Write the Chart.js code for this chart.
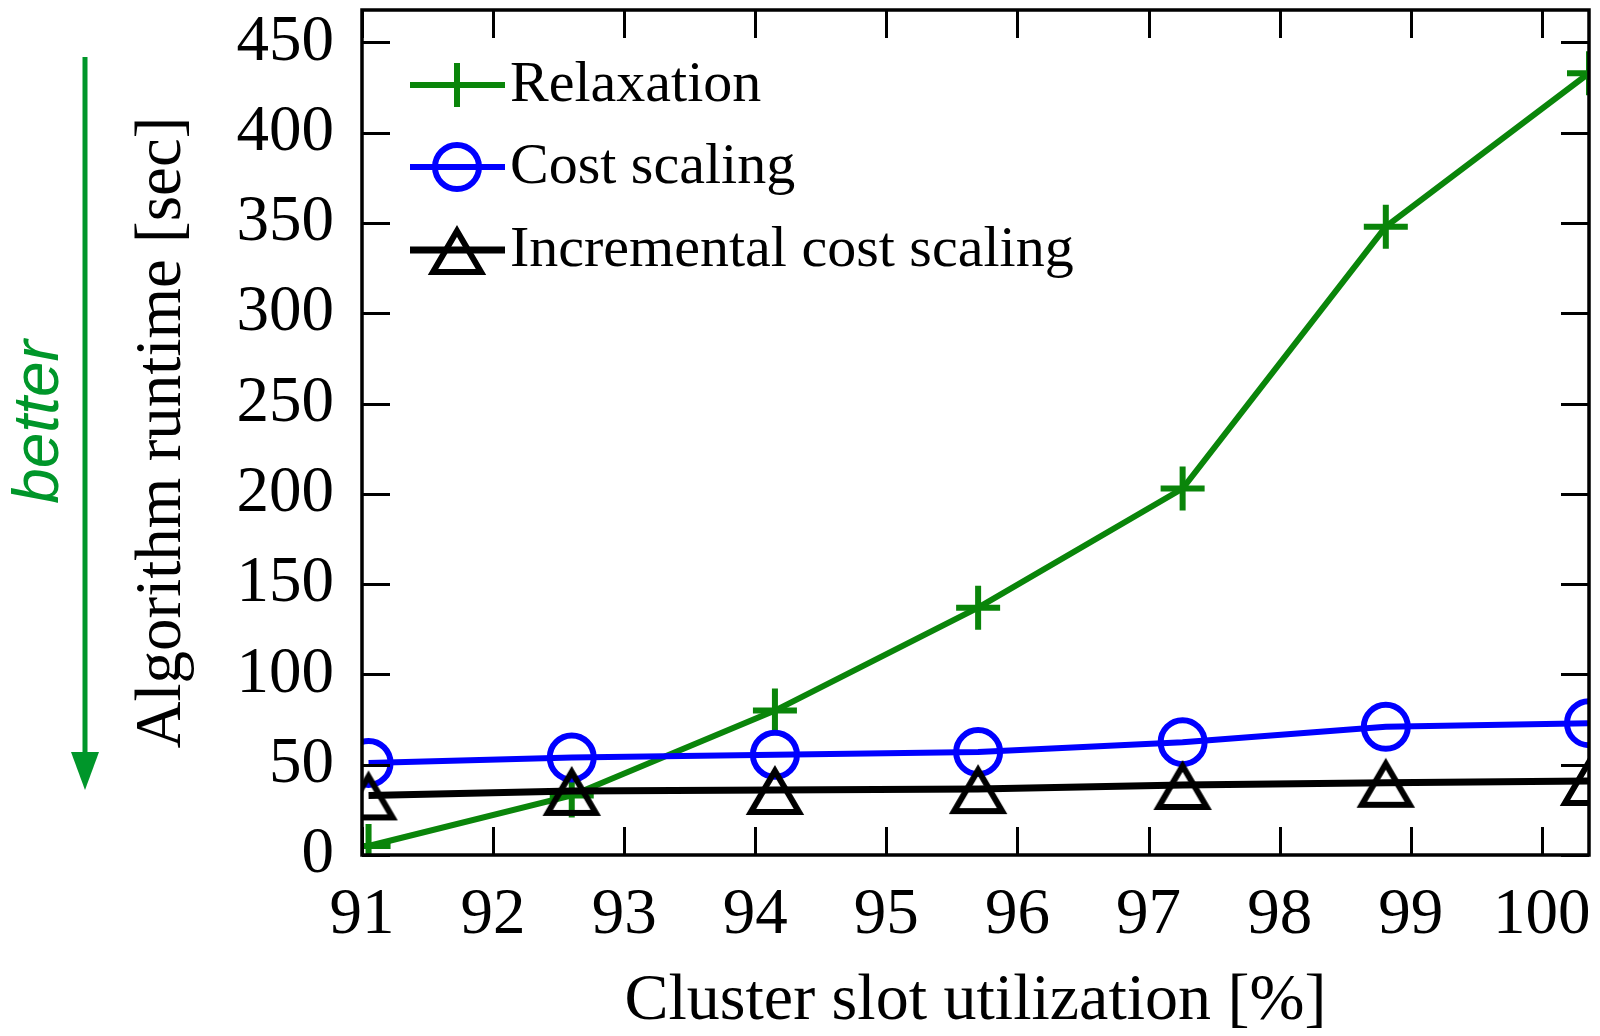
<!DOCTYPE html>
<html>
<head>
<meta charset="utf-8">
<title>Algorithm runtime vs cluster slot utilization</title>
<script src="https://cdn.jsdelivr.net/npm/chart.js@4.4.1/dist/chart.umd.min.js"></script>
<style>
  html, body { margin: 0; padding: 0; background: #ffffff; }
  #wrap { width: 1600px; height: 1036px; position: relative; }
  canvas { display: block; }
</style>
</head>
<body>
<div id="wrap"><canvas id="runtime" width="1600" height="1036"></canvas></div>
<script>
// Cluster slot utilization [%] at each measurement
const utilization = [91.05, 92.6, 94.15, 95.7, 97.26, 98.81, 100.36];

// Algorithm runtime [sec] per solver
const relaxation = [5, 33, 80, 137, 203, 348, 433];
const costScaling = [51, 54, 55.5, 57, 62.5, 71, 73];
const incrementalCostScaling = [33, 35.5, 36, 36.5, 38.8, 40, 41];

// Axis tick labels
const xTicks = [91, 92, 93, 94, 95, 96, 97, 98, 99, 100];
const yTicks = [0, 50, 100, 150, 200, 250, 300, 350, 400, 450];

const seriesNames = ['Relaxation', 'Cost scaling', 'Incremental cost scaling'];

const SERIF = "'Liberation Serif', 'Times New Roman', serif";
const GREEN = '#0a850a';
const BLUE = '#0000ff';
const BLACK = '#000000';

// open triangle marker, sitting slightly low like gnuplot's
function triangleMarker(color) {
  const c = document.createElement('canvas');
  c.width = 66; c.height = 66;
  const g = c.getContext('2d');
  g.strokeStyle = color;
  g.lineWidth = 6;
  g.lineJoin = 'miter';
  g.beginPath();
  g.moveTo(33, 33 - 19);
  g.lineTo(33 + 24, 33 + 22);
  g.lineTo(33 - 24, 33 + 22);
  g.closePath();
  g.stroke();
  return c;
}
const triangle = triangleMarker(BLACK);

function toPoints(ys) {
  return utilization.map((x, i) => ({ x: x, y: ys[i] }));
}

// keep the plot box fixed: no extra room reserved for overhanging labels
function noLabelPadding(scale) {
  scale.paddingLeft = 0;
  scale.paddingRight = 0;
  scale.paddingTop = 0;
  scale.paddingBottom = 0;
}

// inward ticks on all four sides plus the plot frame
const framePlugin = {
  id: 'frame',
  afterDatasetsDraw(chart) {
    const { ctx, chartArea: a, scales: { x, y } } = chart;
    const len = 28;
    ctx.save();
    ctx.strokeStyle = '#000';
    ctx.lineWidth = 3;
    ctx.beginPath();
    x.ticks.forEach(t => {
      const px = Math.round(x.getPixelForValue(t.value)) + 0.5;
      ctx.moveTo(px, a.bottom); ctx.lineTo(px, a.bottom - len);
      ctx.moveTo(px, a.top); ctx.lineTo(px, a.top + len);
    });
    y.ticks.forEach(t => {
      const py = Math.round(y.getPixelForValue(t.value)) + 0.5;
      ctx.moveTo(a.left, py); ctx.lineTo(a.left + len, py);
      ctx.moveTo(a.right, py); ctx.lineTo(a.right - len, py);
    });
    ctx.stroke();
    ctx.lineWidth = 3.5;
    ctx.strokeRect(a.left, a.top, a.right - a.left, a.bottom - a.top);
    ctx.restore();
  }
};

// key in the upper-left corner: line sample, marker, name
const keyPlugin = {
  id: 'key',
  afterDatasetsDraw(chart) {
    const { ctx } = chart;
    const x0 = 410, x1 = 505, xm = 457, xt = 510;
    const rows = [85, 167, 250];
    ctx.save();
    chart.data.datasets.forEach((ds, i) => {
      const yy = rows[i];
      ctx.strokeStyle = ds.borderColor;
      ctx.lineWidth = ds.borderWidth;
      ctx.beginPath();
      ctx.moveTo(x0, yy); ctx.lineTo(x1, yy);
      ctx.stroke();
      ctx.lineWidth = ds.pointBorderWidth;
      const r = ds.pointRadius;
      if (ds.pointStyle === 'cross') {
        ctx.beginPath();
        ctx.moveTo(xm - r, yy); ctx.lineTo(xm + r, yy);
        ctx.moveTo(xm, yy - r); ctx.lineTo(xm, yy + r);
        ctx.stroke();
      } else if (ds.pointStyle === 'circle') {
        ctx.beginPath();
        ctx.arc(xm, yy, r, 0, Math.PI * 2);
        ctx.stroke();
      } else if (ds.pointStyle instanceof HTMLCanvasElement) {
        const img = ds.pointStyle;
        ctx.drawImage(img, xm - img.width / 2, yy - img.height / 2);
      }
      ctx.fillStyle = '#000';
      ctx.font = '58px ' + SERIF;
      ctx.textAlign = 'left';
      ctx.textBaseline = 'middle';
      ctx.fillText(ds.label, xt, yy + 1);
    });
    ctx.restore();
  }
};

// "better" hint with a downward arrow to the left of the axis
const betterPlugin = {
  id: 'better',
  afterDraw(chart) {
    const { ctx } = chart;
    const col = '#00962a';
    ctx.save();
    ctx.strokeStyle = col;
    ctx.fillStyle = col;
    ctx.lineWidth = 5;
    ctx.beginPath();
    ctx.moveTo(85, 57);
    ctx.lineTo(85, 760);
    ctx.stroke();
    ctx.beginPath();
    ctx.moveTo(71, 752);
    ctx.lineTo(99, 752);
    ctx.lineTo(85, 790);
    ctx.closePath();
    ctx.fill();
    ctx.translate(58, 422);
    ctx.rotate(-Math.PI / 2);
    ctx.font = "italic 64px 'Liberation Sans', Arial, sans-serif";
    ctx.textAlign = 'center';
    ctx.textBaseline = 'alphabetic';
    ctx.fillText('better', 0, 0);
    ctx.restore();
  }
};

new Chart(document.getElementById('runtime'), {
  type: 'line',
  data: {
    datasets: [
      {
        label: seriesNames[0],
        data: toPoints(relaxation),
        borderColor: GREEN,
        borderWidth: 6,
        pointStyle: 'cross',
        pointRadius: 22,
        pointBorderWidth: 6,
        pointBorderColor: GREEN,
        pointBackgroundColor: 'rgba(0,0,0,0)',
        order: 3
      },
      {
        label: seriesNames[1],
        data: toPoints(costScaling),
        borderColor: BLUE,
        borderWidth: 6,
        pointStyle: 'circle',
        pointRadius: 22,
        pointBorderWidth: 6,
        pointBorderColor: BLUE,
        pointBackgroundColor: 'rgba(0,0,0,0)',
        order: 2
      },
      {
        label: seriesNames[2],
        data: toPoints(incrementalCostScaling),
        borderColor: BLACK,
        borderWidth: 7,
        pointStyle: triangle,
        pointRadius: 22,
        pointBorderWidth: 6,
        pointBorderColor: BLACK,
        pointBackgroundColor: 'rgba(0,0,0,0)',
        order: 1
      }
    ]
  },
  options: {
    responsive: false,
    devicePixelRatio: 1,
    animation: false,
    events: [],
    layout: { autoPadding: false, padding: { top: 10, right: 11, left: 0, bottom: 0 } },
    elements: { line: { tension: 0, fill: false } },
    datasets: { line: { clip: 0 } },
    plugins: { legend: { display: false }, tooltip: { enabled: false } },
    scales: {
      x: {
        type: 'linear',
        min: 91,
        max: 100.36,
        grid: { display: false },
        border: { display: false },
        afterBuildTicks(scale) { scale.ticks = xTicks.map(v => ({ value: v })); },
        afterFit(scale) { scale.height = 181; noLabelPadding(scale); },
        ticks: {
          color: '#000',
          padding: 20,
          maxRotation: 0,
          autoSkip: false,
          font: { family: SERIF, size: 65, lineHeight: 1 },
          callback: v => String(v)
        },
        title: {
          display: true,
          text: 'Cluster slot utilization [%]',
          color: '#000',
          padding: { top: 0, bottom: 1 },
          font: { family: SERIF, size: 66, lineHeight: 1 }
        }
      },
      y: {
        type: 'linear',
        min: 0,
        max: 468,
        grid: { display: false },
        border: { display: false },
        afterBuildTicks(scale) { scale.ticks = yTicks.map(v => ({ value: v })); },
        afterFit(scale) { scale.width = 362; noLabelPadding(scale); },
        ticks: {
          color: '#000',
          padding: 20,
          autoSkip: false,
          font: { family: SERIF, size: 65, lineHeight: 1 },
          callback: v => String(v)
        },
        title: {
          display: true,
          text: 'Algorithm runtime [sec]',
          color: '#000',
          padding: { top: 130, bottom: 0 },
          font: { family: SERIF, size: 65, lineHeight: 1 }
        }
      }
    }
  },
  plugins: [framePlugin, keyPlugin, betterPlugin]
});
</script>
</body>
</html>
